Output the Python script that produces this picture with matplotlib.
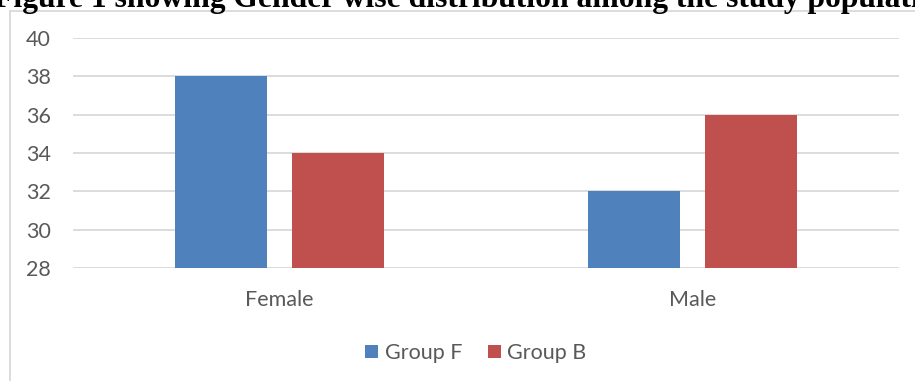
import matplotlib.pyplot as plt
import numpy as np
from matplotlib.patches import Rectangle

categories = ["Female", "Male"]
group_f = [38, 32]
group_b = [34, 36]
yticks = [28, 30, 32, 34, 36, 38, 40]

plt.rcParams['font.family'] = ['Lato', 'DejaVu Sans']

fig = plt.figure(figsize=(9.15, 3.81), dpi=100)
W, H = 915, 381

# outer chart frame (right and bottom edges fall outside the image)
fig.patches.append(Rectangle((9.5 / W, -0.05), 1.0, 1.05 - 10.5 / H,
                             transform=fig.transFigure, fill=False,
                             edgecolor='#d9d9d9', linewidth=1.3))

# caption text above the frame
fig.text(474 / W, 1 - 7 / H, "Figure 1 showing Gender wise distribution among the study population",
         ha='center', va='baseline', fontsize=22.8, fontweight='bold',
         family='Liberation Serif', color='black')

ax = fig.add_axes([73 / W, 1 - 268 / H, (899 - 73) / W, (268 - 38) / H])

x = np.arange(len(categories))
w = 0.223
gap = 0.06
ax.bar(x - (w + gap) / 2, np.array(group_f) - 28, w, bottom=28, color='#4f81bd',
       label='Group F', zorder=3)
ax.bar(x + (w + gap) / 2, np.array(group_b) - 28, w, bottom=28, color='#c0504d',
       label='Group B', zorder=3)

ax.set_xlim(-0.5, 1.5)
ax.set_ylim(28, 40)
ax.set_yticks(yticks)
ax.set_xticks(x)
ax.set_xticklabels(categories)
ax.grid(axis='y', color='#d9d9d9', linewidth=1.3, zorder=0)
for s in ax.spines.values():
    s.set_visible(False)
ax.tick_params(axis='both', length=0, labelsize=15.5, labelcolor='#595959')
ax.tick_params(axis='y', pad=16)
ax.tick_params(axis='x', pad=16)

ax.legend(loc='center', bbox_to_anchor=(476 / W, 1 - 353 / H), bbox_transform=fig.transFigure,
          ncol=2, frameon=False, fontsize=15.5, labelcolor='#595959',
          handlelength=0.6, handleheight=0.6, handletextpad=0.3, columnspacing=1.2)

fig.savefig('out.png', dpi=100)
